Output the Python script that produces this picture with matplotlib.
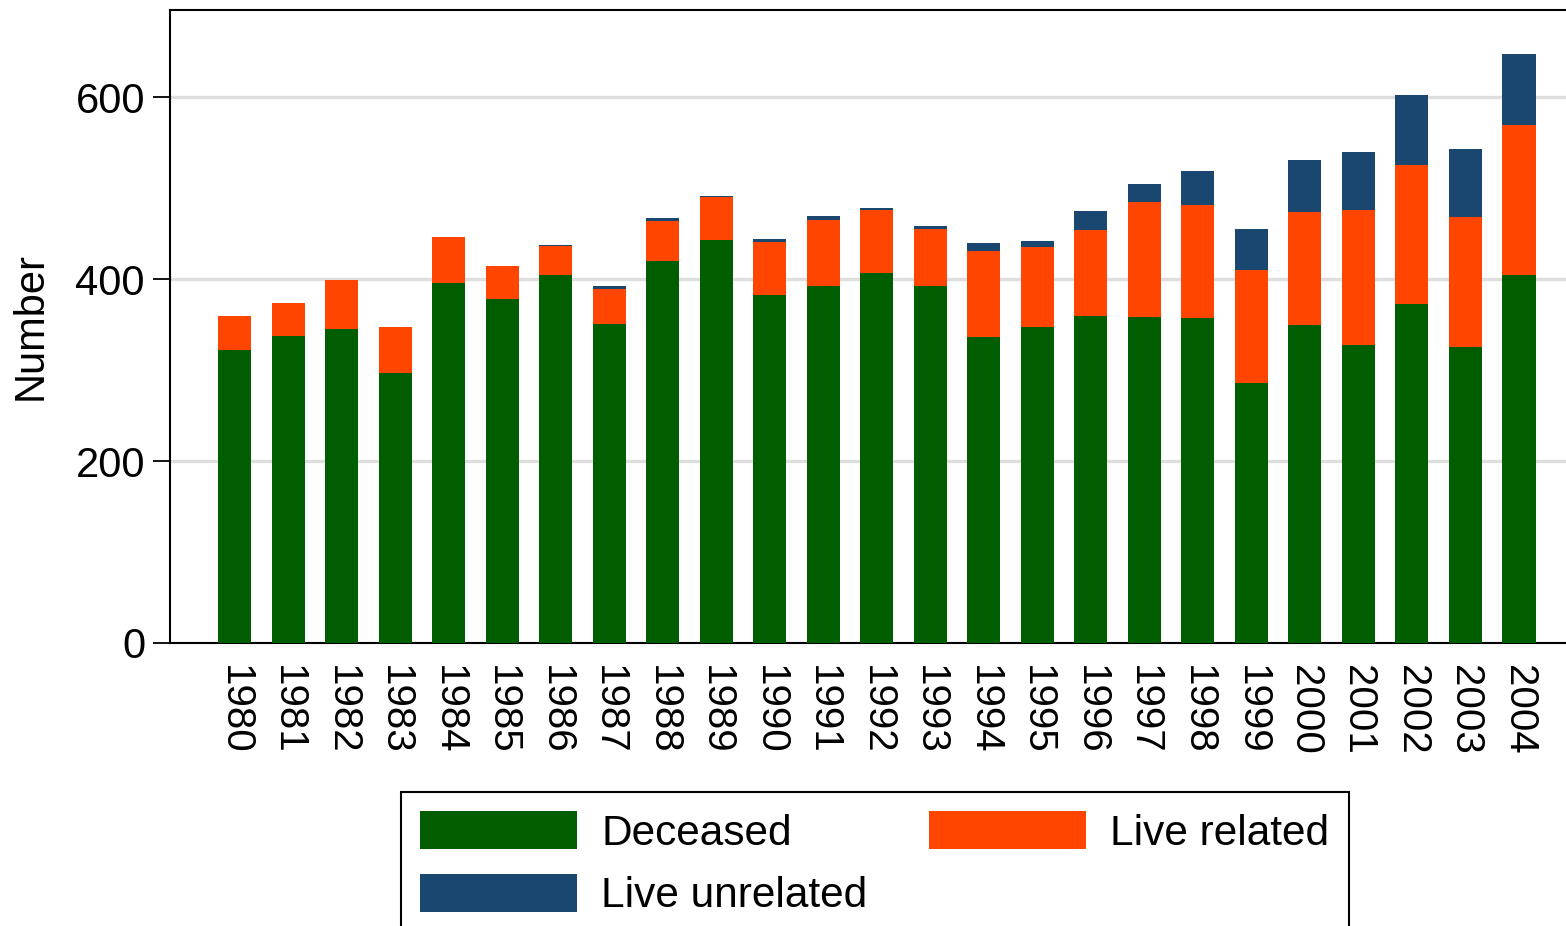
import matplotlib
matplotlib.use("Agg")
import matplotlib.pyplot as plt
import numpy as np

years = [str(y) for y in range(1980, 2005)]
deceased = [322, 338, 345, 297, 396, 378, 405, 351, 420, 443, 383, 392, 407,
            392, 337, 347, 360, 358, 357, 286, 350, 328, 373, 325, 405]
live_related = [37, 36, 54, 50, 50, 37, 31, 38, 44, 47, 58, 73, 69,
                63, 94, 88, 94, 127, 125, 124, 124, 148, 153, 143, 165]
live_unrelated = [0, 0, 0, 0, 0, 0, 2, 3, 3, 2, 3, 5, 2,
                  4, 9, 7, 21, 20, 37, 45, 57, 64, 77, 75, 78]

c_dec = "#005e00"
c_rel = "#ff4500"
c_unr = "#1a476f"

plt.rcParams['font.family'] = ['Liberation Sans', 'DejaVu Sans']

W, H = 1566, 926
fig = plt.figure(figsize=(W / 100, H / 100), dpi=100)
ax = fig.add_axes([170 / W, 1 - 643 / H, (W - 170) / W, (643 - 10) / H])

x = np.arange(len(years))
d = np.array(deceased)
r = np.array(live_related)
u = np.array(live_unrelated)
bw = 0.62
ax.bar(x, d, width=bw, color=c_dec, label="Deceased", zorder=3)
ax.bar(x, r, width=bw, bottom=d, color=c_rel, label="Live related", zorder=3)
ax.bar(x, u, width=bw, bottom=d + r, color=c_unr, label="Live unrelated", zorder=3)

ax.set_xlim(-1.21, 24.88)
ax.set_ylim(0, 696)
ax.set_yticks([0, 200, 400, 600])
ax.yaxis.grid(True, color="#dedede", linewidth=2.4, zorder=0)
ax.set_axisbelow(True)
ax.set_xticks(x)
ax.set_xticklabels(years, rotation=-90, fontsize=29)
ax.tick_params(axis='x', length=0, pad=16)
ax.tick_params(axis='y', length=12, width=1.3, labelsize=30, pad=6)
ax.set_ylabel("Number", fontsize=30, labelpad=18)

for s in ['left', 'top', 'bottom']:
    ax.spines[s].set_linewidth(1.5)
    ax.spines[s].set_color('black')
ax.spines['right'].set_visible(False)

handles, labels = ax.get_legend_handles_labels()
order = [0, 2, 1]
leg = fig.legend([handles[i] for i in order], [labels[i] for i in order],
                 loc='upper left', bbox_to_anchor=(401 / W, 1 - 792 / H),
                 bbox_transform=fig.transFigure, ncol=2, fontsize=30.5,
                 frameon=True, fancybox=False, edgecolor='black', framealpha=1,
                 handlelength=3.7, handleheight=1.0, handletextpad=0.58,
                 columnspacing=1.45, labelspacing=0.48, borderpad=0.45,
                 borderaxespad=0)
leg.get_frame().set_linewidth(1.5)

fig.savefig("out.png", dpi=100)
